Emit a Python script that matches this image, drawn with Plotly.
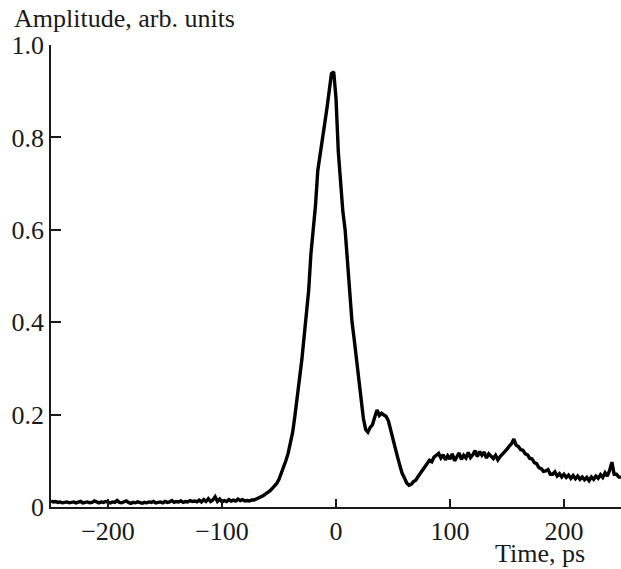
import plotly.graph_objects as go

# Time axis (ps), 2 ps steps from -250 to 250
time_ps = list(range(-250, 251, 2))

# Amplitude (arb. units)
amp_baseline = [
    0.013, 0.011, 0.012, 0.010, 0.011, 0.009, 0.010, 0.011, 0.009, 0.010,
    0.011, 0.009, 0.010, 0.012, 0.009, 0.010, 0.011, 0.009, 0.010, 0.013,
    0.010, 0.009, 0.011, 0.010, 0.012, 0.010, 0.009, 0.011, 0.010, 0.014,
    0.010, 0.009, 0.011, 0.013, 0.010, 0.008, 0.010, 0.009, 0.011, 0.010,
    0.008, 0.010, 0.009, 0.011, 0.010, 0.012, 0.009, 0.010, 0.011, 0.009,
    0.012, 0.010, 0.011, 0.014, 0.010, 0.012, 0.011, 0.013, 0.010, 0.012,
    0.011, 0.014, 0.012, 0.013, 0.011,            # -250 .. -122
    0.015, 0.011, 0.016, 0.012, 0.018, 0.012, 0.015, 0.022, 0.012, 0.017,
    0.011, 0.014, 0.012, 0.016, 0.013, 0.015, 0.013, 0.017, 0.014, 0.016,
    0.013,                                        # -120 .. -80
]
amp_rise = [
    0.014, 0.013, 0.015, 0.015, 0.017, 0.019, 0.022, 0.024, 0.028, 0.031,
    0.035, 0.040, 0.045, 0.051, 0.060, 0.072, 0.086, 0.100, 0.116, 0.138,
    0.162, 0.198, 0.232, 0.278, 0.318, 0.372, 0.420, 0.468, 0.548, 0.600,
    0.652, 0.728, 0.760, 0.790, 0.828, 0.862, 0.900, 0.938, 0.942,  # -78 .. -2
]
amp_fall = [
    0.885, 0.770, 0.692, 0.640, 0.600, 0.538, 0.458, 0.402, 0.362, 0.320,
    0.272, 0.232, 0.192, 0.168, 0.162, 0.172, 0.178, 0.195, 0.210, 0.198,
    0.203, 0.199, 0.196, 0.186, 0.165, 0.148, 0.130, 0.108, 0.090, 0.073,
    0.063, 0.052, 0.047, 0.049, 0.055, 0.058, 0.066, 0.073, 0.079, 0.085,
    0.095, 0.101, 0.098, 0.108, 0.112,            # 0 .. 88
]
amp_tail = [
    0.116, 0.106, 0.113, 0.102, 0.111, 0.104, 0.115, 0.100, 0.110, 0.117,
    0.103, 0.112, 0.106, 0.118, 0.107, 0.113, 0.122, 0.109, 0.120, 0.112,
    0.119, 0.106, 0.115, 0.109, 0.105, 0.112, 0.102, 0.109, 0.114, 0.119,
    0.125, 0.132, 0.137, 0.147, 0.134, 0.131, 0.124, 0.123, 0.115, 0.113,
    0.105, 0.104, 0.096, 0.094, 0.085, 0.083, 0.077, 0.078, 0.081, 0.071,
    0.071, 0.076, 0.067, 0.072, 0.065, 0.071, 0.064, 0.069, 0.062, 0.068,
    0.061, 0.067, 0.060, 0.065, 0.059, 0.064, 0.057, 0.065, 0.060, 0.067,
    0.062, 0.070, 0.064, 0.074, 0.067, 0.079, 0.097, 0.071, 0.071, 0.065,
    0.064,                                        # 90 .. 250
]
amplitude = amp_baseline + amp_rise + amp_fall + amp_tail

x_tick_vals = [-200, -100, 0, 100, 200]
y_tick_vals = [0, 0.2, 0.4, 0.6, 0.8, 1.0]
y_tick_text = ["0", "0.2", "0.4", "0.6", "0.8", "1.0"]

FONT = "Liberation Serif, Times New Roman, serif"
INK = "#1a1a1a"

fig = go.Figure()
fig.add_trace(go.Scatter(
    x=time_ps[:len(amplitude)], y=amplitude, mode="lines",
    line=dict(color="black", width=3.4), showlegend=False,
))

fig.update_layout(
    width=621, height=569,
    margin=dict(l=51, r=0, t=45, b=62),
    paper_bgcolor="white", plot_bgcolor="white",
    font=dict(family=FONT, size=26, color=INK),
    xaxis=dict(
        range=[-250, 250], showgrid=False, zeroline=False,
        showline=True, linecolor=INK, linewidth=1.5,
        ticks="inside", ticklen=8, tickwidth=1.5, tickcolor=INK,
        tickvals=x_tick_vals, tickfont=dict(family=FONT, size=26, color=INK),
    ),
    yaxis=dict(
        range=[0, 1], showgrid=False, zeroline=False,
        showline=True, linecolor=INK, linewidth=1.5,
        ticks="inside", ticklen=10, tickwidth=1.5, tickcolor=INK,
        tickvals=y_tick_vals, ticktext=y_tick_text,
        tickfont=dict(family=FONT, size=26, color=INK),
    ),
    annotations=[
        dict(text="Amplitude, arb. units", xref="paper", yref="paper",
             x=(12 - 51) / 570, y=1 + (44.5 - 1) / 462.5,
             xanchor="left", yanchor="top", showarrow=False,
             font=dict(family=FONT, size=26, color=INK)),
        dict(text="Time, ps", xref="paper", yref="paper",
             x=(586 - 51) / 570, y=(507 - 538) / 462.5,
             xanchor="right", yanchor="top", showarrow=False,
             borderpad=0,
             font=dict(family=FONT, size=26, color=INK)),
    ],
)

fig.write_html("out.html")
